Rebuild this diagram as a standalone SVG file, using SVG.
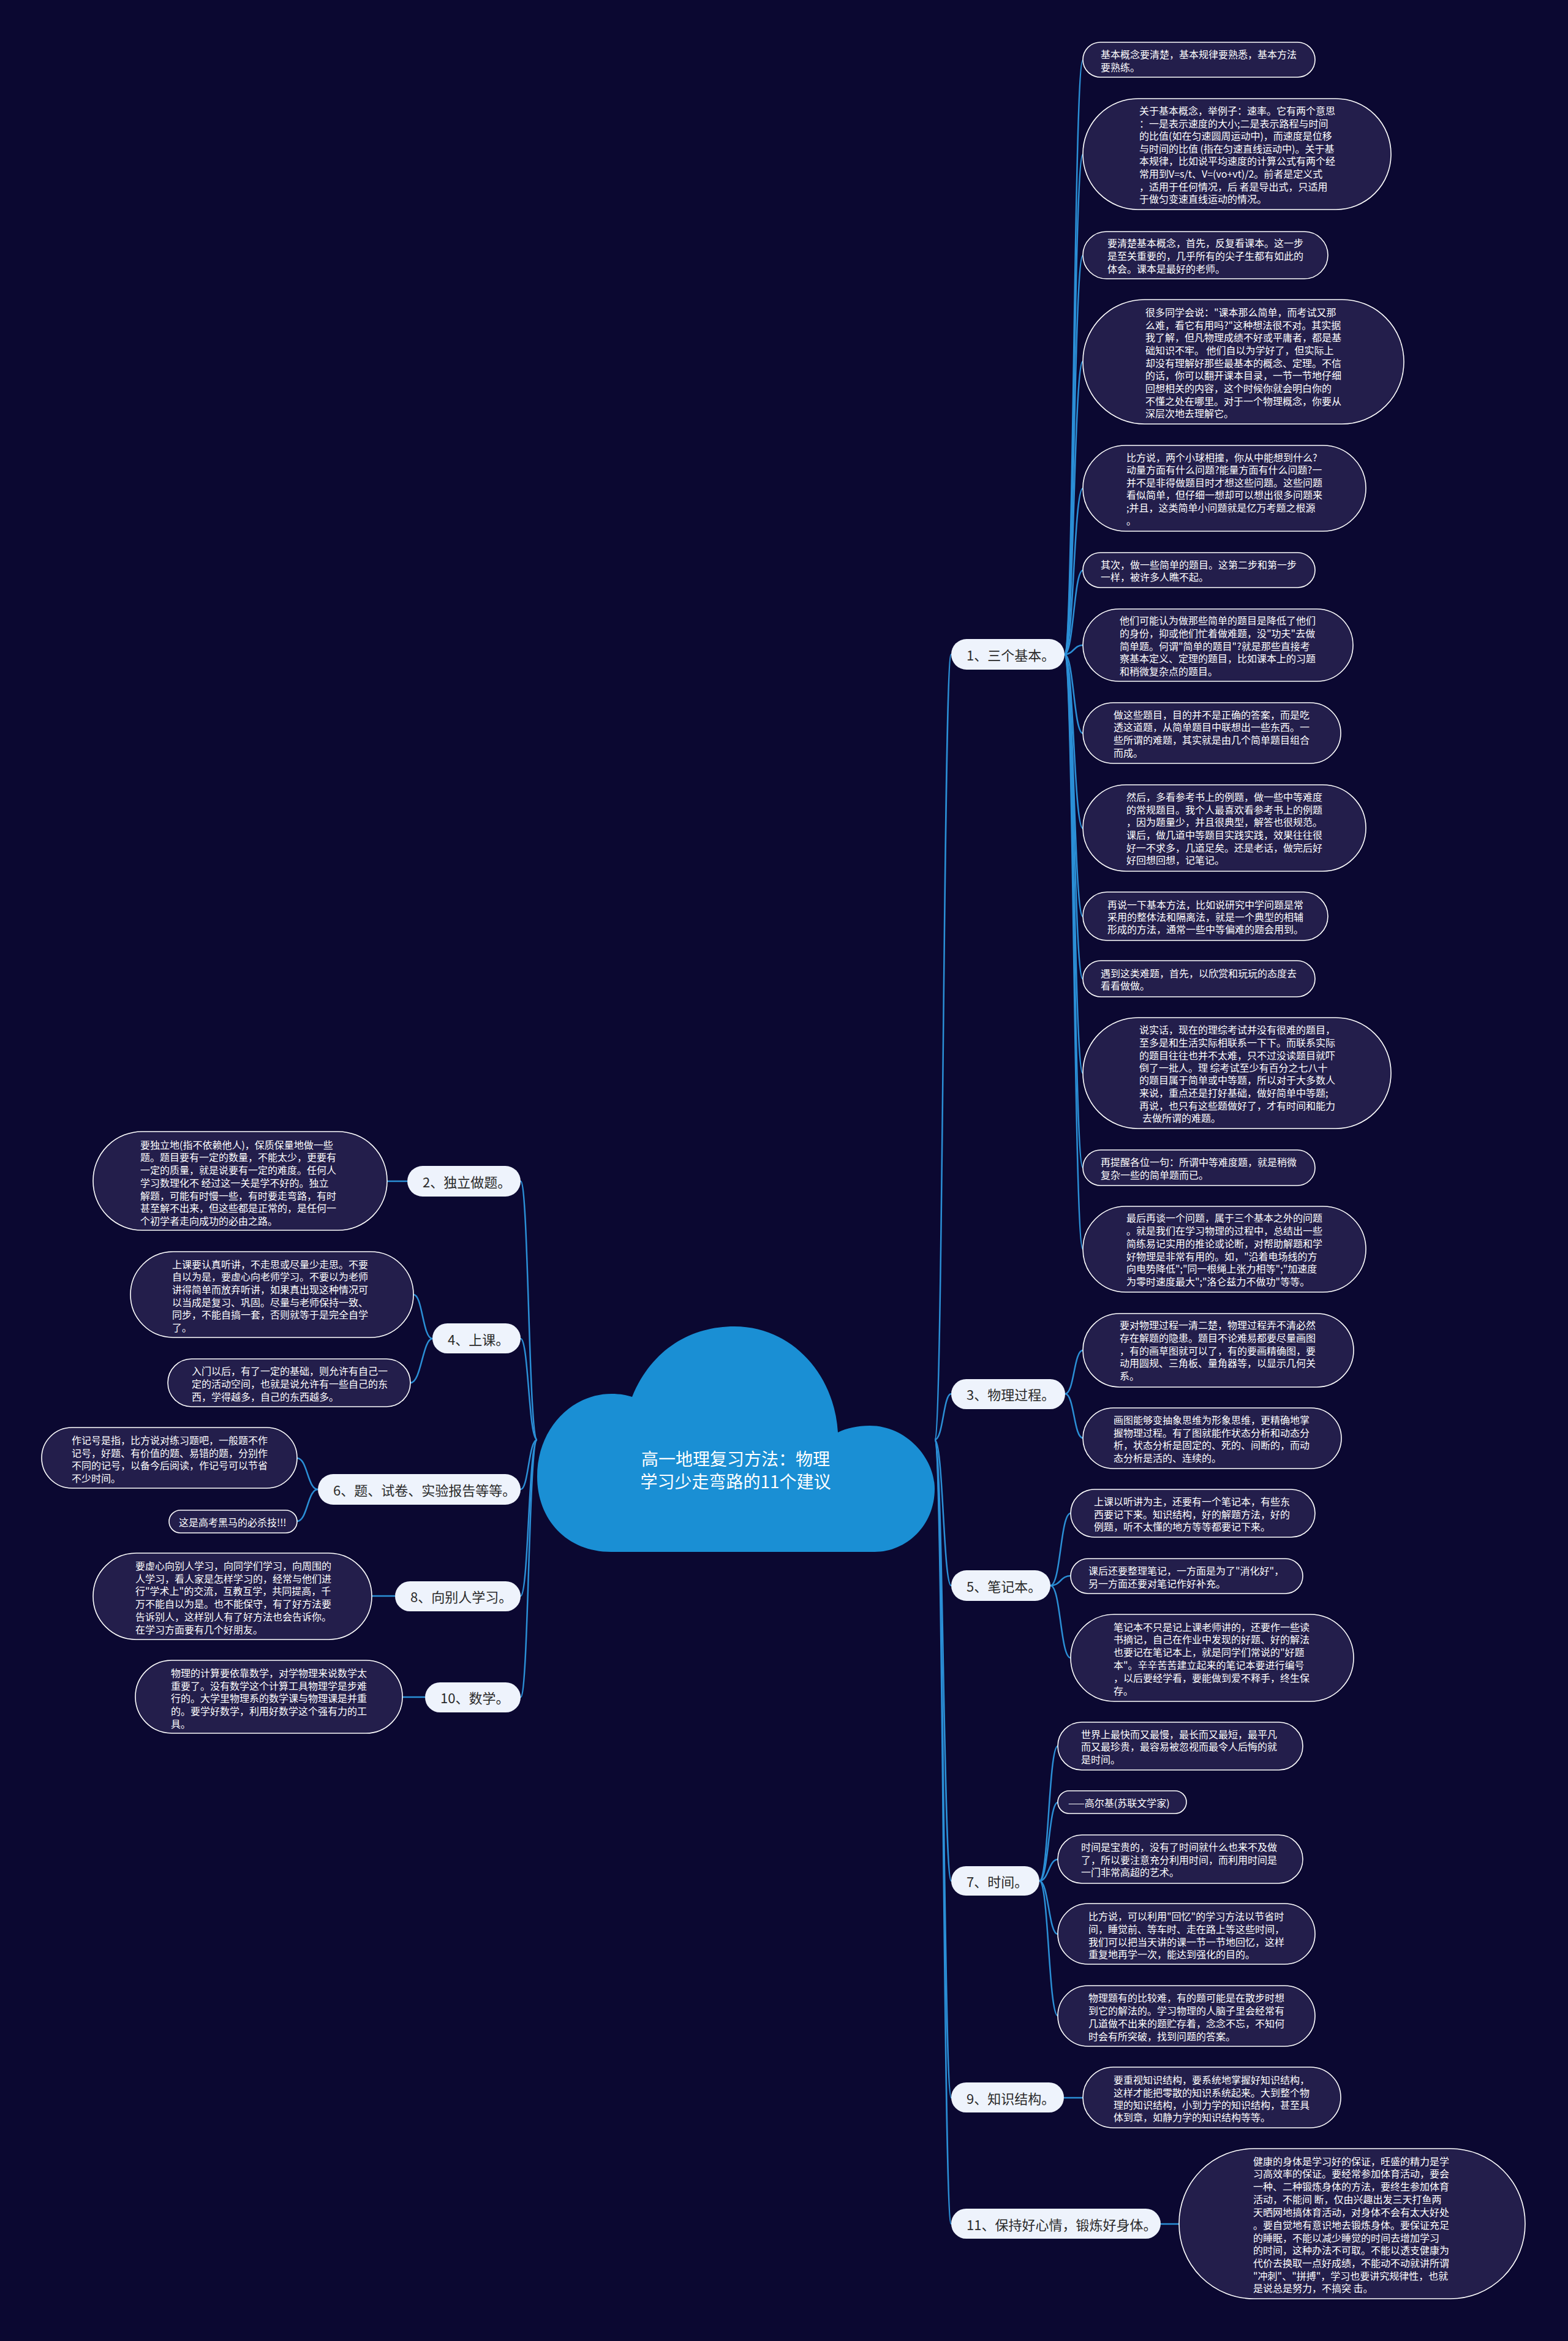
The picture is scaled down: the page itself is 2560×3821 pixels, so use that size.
<svg xmlns="http://www.w3.org/2000/svg" width="2560" height="3821" viewBox="0 0 2560 3821">
<style>
.bub{fill:#231e4b;stroke:#ffffff;stroke-width:1.6}
.bt{font-family:"Noto Sans CJK SC","Noto Sans",sans-serif;font-size:16px;fill:#ffffff;dominant-baseline:central}
.lab{fill:#eef3fc}
.lt{font-family:"Noto Sans CJK SC","Noto Sans",sans-serif;font-size:22px;fill:#2a2a2a;dominant-baseline:central}
.con{fill:none;stroke:#2b8fd6;stroke-width:2.5}
.title{font-family:"Noto Sans CJK SC","Noto Sans",sans-serif;font-size:28px;fill:#ffffff;dominant-baseline:central;text-anchor:middle}
</style>
<rect x="0" y="0" width="2560" height="3821" fill="#0b0831"/>

<g id="connectors">
<!-- main trunk right -->
<path class="con" d="M1526 2350 C1540 2350 1540 1068 1553 1068"/>
<path class="con" d="M1526 2350 C1540 2350 1540 2275 1553 2275"/>
<path class="con" d="M1526 2350 C1540 2350 1540 2588 1553 2588"/>
<path class="con" d="M1526 2350 C1540 2350 1540 3070 1553 3070"/>
<path class="con" d="M1526 2350 C1540 2350 1540 3424 1553 3424"/>
<path class="con" d="M1526 2350 C1540 2350 1540 3630 1553 3630"/>
<!-- main trunk left -->
<path class="con" d="M877 2350 C863 2350 863 1928 850 1928"/>
<path class="con" d="M877 2350 C863 2350 863 2185 850 2185"/>
<path class="con" d="M877 2350 C863 2350 863 2431 850 2431"/>
<path class="con" d="M877 2350 C863 2350 863 2605 850 2605"/>
<path class="con" d="M877 2350 C863 2350 863 2770 850 2770"/>
<!-- section 1 -->
<path class="con" d="M1738 1068 C1753 1068 1753 98 1768 98"/>
<path class="con" d="M1738 1068 C1753 1068 1753 252 1768 252"/>
<path class="con" d="M1738 1068 C1753 1068 1753 417 1768 417"/>
<path class="con" d="M1738 1068 C1753 1068 1753 590 1768 590"/>
<path class="con" d="M1738 1068 C1753 1068 1753 797 1768 797"/>
<path class="con" d="M1738 1068 C1753 1068 1753 931 1768 931"/>
<path class="con" d="M1738 1068 C1753 1068 1753 1053 1768 1053"/>
<path class="con" d="M1738 1068 C1753 1068 1753 1197 1768 1197"/>
<path class="con" d="M1738 1068 C1753 1068 1753 1352 1768 1352"/>
<path class="con" d="M1738 1068 C1753 1068 1753 1496 1768 1496"/>
<path class="con" d="M1738 1068 C1753 1068 1753 1598 1768 1598"/>
<path class="con" d="M1738 1068 C1753 1068 1753 1752 1768 1752"/>
<path class="con" d="M1738 1068 C1753 1068 1753 1906 1768 1906"/>
<path class="con" d="M1738 1068 C1753 1068 1753 2039 1768 2039"/>
<!-- section 3 -->
<path class="con" d="M1739 2275 C1754 2275 1753 2204 1768 2204"/>
<path class="con" d="M1739 2275 C1754 2275 1753 2347 1768 2347"/>
<!-- section 5 -->
<path class="con" d="M1715 2588 C1732 2588 1731 2470 1748 2470"/>
<path class="con" d="M1715 2588 C1732 2588 1731 2572 1748 2572"/>
<path class="con" d="M1715 2588 C1732 2588 1731 2706 1748 2706"/>
<!-- section 7 -->
<path class="con" d="M1697 3070 C1712 3070 1712 2850 1727 2850"/>
<path class="con" d="M1697 3070 C1712 3070 1712 2942 1727 2942"/>
<path class="con" d="M1697 3070 C1712 3070 1712 3035 1727 3035"/>
<path class="con" d="M1697 3070 C1712 3070 1712 3157 1727 3157"/>
<path class="con" d="M1697 3070 C1712 3070 1712 3290 1727 3290"/>
<!-- section 9, 11 -->
<path class="con" d="M1737 3424 L1768 3424"/>
<path class="con" d="M1895 3630 L1925 3630"/>
<!-- left sections -->
<path class="con" d="M665 1928 L632 1928"/>
<path class="con" d="M706 2185 C690 2185 690 2113 675 2113"/>
<path class="con" d="M706 2185 C690 2185 688 2257 670 2257"/>
<path class="con" d="M519 2431 C502 2431 502 2380 485 2380"/>
<path class="con" d="M519 2431 C502 2431 502 2483 485 2483"/>
<path class="con" d="M645 2605 L607 2605"/>
<path class="con" d="M694 2770 L657 2770"/>
</g>

<g id="root">
<path d="M998 2533 C925 2533 877 2480 877 2410 C877 2330 935 2275 998 2275 C1012 2275 1024 2277 1032 2280 C1065 2200 1130 2165 1199 2165 C1290 2165 1362 2240 1368 2338 C1382 2331 1400 2327 1420 2327 C1480 2327 1526 2380 1526 2430 C1526 2490 1480 2533 1428 2533 Z" fill="#1a8fd4"/>
<text class="title"><tspan x="1201" y="2380">高一地理复习方法：物理</tspan><tspan x="1201" y="2417">学习少走弯路的11个建议</tspan></text>
</g>

<g id="n1"><rect class="lab" x="1553" y="1043" width="185" height="50" rx="25"/><text class="lt" x="1578" y="1068">1、三个基本。</text></g>
<g id="n3"><rect class="lab" x="1553" y="2251" width="186" height="49" rx="24.5"/><text class="lt" x="1578" y="2275">3、物理过程。</text></g>
<g id="n5"><rect class="lab" x="1553" y="2563" width="162" height="50" rx="25"/><text class="lt" x="1578" y="2588">5、笔记本。</text></g>
<g id="n7"><rect class="lab" x="1553" y="3046" width="144" height="48" rx="24"/><text class="lt" x="1578" y="3070">7、时间。</text></g>
<g id="n9"><rect class="lab" x="1553" y="3399" width="184" height="49" rx="24.5"/><text class="lt" x="1578" y="3424">9、知识结构。</text></g>
<g id="n11"><rect class="lab" x="1553" y="3605" width="342" height="49" rx="24.5"/><text class="lt" x="1578" y="3630">11、保持好心情，锻炼好身体。</text></g>
<g id="n2"><rect class="lab" x="665" y="1903" width="185" height="50" rx="25"/><text class="lt" x="690" y="1928">2、独立做题。</text></g>
<g id="n4"><rect class="lab" x="706" y="2160" width="144" height="49" rx="24.5"/><text class="lt" x="731" y="2185">4、上课。</text></g>
<g id="n6"><rect class="lab" x="519" y="2406" width="331" height="50" rx="25"/><text class="lt" x="544" y="2431">6、题、试卷、实验报告等等。</text></g>
<g id="n8"><rect class="lab" x="645" y="2581" width="205" height="49" rx="24.5"/><text class="lt" x="670" y="2605">8、向别人学习。</text></g>
<g id="n10"><rect class="lab" x="694" y="2746" width="156" height="49" rx="24.5"/><text class="lt" x="719" y="2770">10、数学。</text></g>

<g id="b1"><rect class="bub" x="1768" y="69" width="379" height="57" rx="28.5"/><text class="bt"><tspan x="1797" y="88">基本概念要清楚，基本规律要熟悉，基本方法</tspan><tspan x="1797" y="109">要熟练。</tspan></text></g>
<g id="b2"><rect class="bub" x="1768" y="161" width="503" height="181" rx="90"/><text class="bt"><tspan x="1860" y="180">关于基本概念，举例子：速率。它有两个意思</tspan><tspan x="1860" y="201">：一是表示速度的大小;二是表示路程与时间</tspan><tspan x="1860" y="221">的比值(如在匀速圆周运动中)，而速度是位移</tspan><tspan x="1860" y="242">与时间的比值 (指在匀速直线运动中)。关于基</tspan><tspan x="1860" y="262">本规律，比如说平均速度的计算公式有两个经</tspan><tspan x="1860" y="283">常用到V=s/t、V=(vo+vt)/2。前者是定义式</tspan><tspan x="1860" y="304">，适用于任何情况，后 者是导出式，只适用</tspan><tspan x="1860" y="324">于做匀变速直线运动的情况。</tspan></text></g>
<g id="b3"><rect class="bub" x="1768" y="378" width="400" height="77" rx="38.5"/><text class="bt"><tspan x="1808" y="396">要清楚基本概念，首先，反复看课本。这一步</tspan><tspan x="1808" y="417">是至关重要的，几乎所有的尖子生都有如此的</tspan><tspan x="1808" y="438">体会。课本是最好的老师。</tspan></text></g>
<g id="b4"><rect class="bub" x="1768" y="489" width="524" height="203" rx="101"/><text class="bt"><tspan x="1870" y="509">很多同学会说："课本那么简单，而考试又那</tspan><tspan x="1870" y="530">么难，看它有用吗?"这种想法很不对。其实据</tspan><tspan x="1870" y="550">我了解，但凡物理成绩不好或平庸者，都是基</tspan><tspan x="1870" y="571">础知识不牢。 他们自以为学好了，但实际上</tspan><tspan x="1870" y="592">却没有理解好那些最基本的概念、定理。不信</tspan><tspan x="1870" y="612">的话，你可以翻开课本目录，一节一节地仔细</tspan><tspan x="1870" y="633">回想相关的内容，这个时候你就会明白你的</tspan><tspan x="1870" y="654">不懂之处在哪里。对于一个物理概念，你要从</tspan><tspan x="1870" y="674">深层次地去理解它。</tspan></text></g>
<g id="b5"><rect class="bub" x="1768" y="727" width="462" height="140" rx="70"/><text class="bt"><tspan x="1839" y="746">比方说，两个小球相撞，你从中能想到什么?</tspan><tspan x="1839" y="766">动量方面有什么问题?能量方面有什么问题?一</tspan><tspan x="1839" y="787">并不是非得做题目时才想这些问题。这些问题</tspan><tspan x="1839" y="807">看似简单，但仔细一想却可以想出很多问题来</tspan><tspan x="1839" y="828">;并且，这类简单小问题就是亿万考题之根源</tspan><tspan x="1839" y="849">。</tspan></text></g>
<g id="b6"><rect class="bub" x="1768" y="902" width="379" height="57" rx="28.5"/><text class="bt"><tspan x="1797" y="921">其次，做一些简单的题目。这第二步和第一步</tspan><tspan x="1797" y="941">一样，被许多人瞧不起。</tspan></text></g>
<g id="b7"><rect class="bub" x="1768" y="994" width="441" height="118" rx="59"/><text class="bt"><tspan x="1828" y="1012">他们可能认为做那些简单的题目是降低了他们</tspan><tspan x="1828" y="1033">的身份，抑或他们忙着做难题，没"功夫"去做</tspan><tspan x="1828" y="1054">简单题。何谓"简单的题目"?就是那些直接考</tspan><tspan x="1828" y="1074">察基本定义、定理的题目，比如课本上的习题</tspan><tspan x="1828" y="1095">和稍微复杂点的题目。</tspan></text></g>
<g id="b8"><rect class="bub" x="1768" y="1147" width="421" height="99" rx="49.5"/><text class="bt"><tspan x="1818" y="1166">做这些题目，目的并不是正确的答案，而是吃</tspan><tspan x="1818" y="1186">透这道题，从简单题目中联想出一些东西。一</tspan><tspan x="1818" y="1207">些所谓的难题，其实就是由几个简单题目组合</tspan><tspan x="1818" y="1228">而成。</tspan></text></g>
<g id="b9"><rect class="bub" x="1768" y="1281" width="462" height="141" rx="70.5"/><text class="bt"><tspan x="1839" y="1300">然后，多看参考书上的例题，做一些中等难度</tspan><tspan x="1839" y="1321">的常规题目。我个人最喜欢看参考书上的例题</tspan><tspan x="1839" y="1341">，因为题量少，并且很典型，解答也很规范。</tspan><tspan x="1839" y="1362">课后，做几道中等题目实践实践，效果往往很</tspan><tspan x="1839" y="1383">好一不求多，几道足矣。还是老话，做完后好</tspan><tspan x="1839" y="1403">好回想回想，记笔记。</tspan></text></g>
<g id="b10"><rect class="bub" x="1768" y="1456" width="400" height="79" rx="39.5"/><text class="bt"><tspan x="1808" y="1476">再说一下基本方法，比如说研究中学问题是常</tspan><tspan x="1808" y="1496">采用的整体法和隔离法，就是一个典型的相辅</tspan><tspan x="1808" y="1516">形成的方法，通常一些中等偏难的题会用到。</tspan></text></g>
<g id="b11"><rect class="bub" x="1768" y="1568" width="379" height="59" rx="29.5"/><text class="bt"><tspan x="1797" y="1588">遇到这类难题，首先，以欣赏和玩玩的态度去</tspan><tspan x="1797" y="1608">看看做做。</tspan></text></g>
<g id="b12"><rect class="bub" x="1768" y="1661" width="503" height="181" rx="90"/><text class="bt"><tspan x="1860" y="1680">说实话，现在的理综考试并没有很难的题目，</tspan><tspan x="1860" y="1701">至多是和生活实际相联系一下下。而联系实际</tspan><tspan x="1860" y="1722">的题目往往也并不太难，只不过没读题目就吓</tspan><tspan x="1860" y="1742">倒了一批人。理 综考试至少有百分之七八十</tspan><tspan x="1860" y="1762">的题目属于简单或中等题，所以对于大多数人</tspan><tspan x="1860" y="1783">来说，重点还是打好基础，做好简单中等题;</tspan><tspan x="1860" y="1804">再说，也只有这些题做好了，才有时间和能力</tspan><tspan x="1865" y="1824">去做所谓的难题。</tspan></text></g>
<g id="b13"><rect class="bub" x="1768" y="1877" width="379" height="58" rx="29"/><text class="bt"><tspan x="1797" y="1896">再提醒各位一句：所谓中等难度题，就是稍微</tspan><tspan x="1797" y="1917">复杂一些的简单题而已。</tspan></text></g>
<g id="b14"><rect class="bub" x="1768" y="1969" width="462" height="140" rx="70"/><text class="bt"><tspan x="1839" y="1987">最后再谈一个问题，属于三个基本之外的问题</tspan><tspan x="1839" y="2008">。就是我们在学习物理的过程中，总结出一些</tspan><tspan x="1839" y="2029">简练易记实用的推论或论断，对帮助解题和学</tspan><tspan x="1839" y="2050">好物理是非常有用的。如，"沿着电场线的方</tspan><tspan x="1839" y="2070">向电势降低";"同一根绳上张力相等";"加速度</tspan><tspan x="1839" y="2091">为零时速度最大";"洛仑兹力不做功"等等。</tspan></text></g>

<g id="b15"><rect class="bub" x="1768" y="2144" width="442" height="120" rx="60"/><text class="bt"><tspan x="1828" y="2162">要对物理过程一清二楚，物理过程弄不清必然</tspan><tspan x="1828" y="2183">存在解题的隐患。题目不论难易都要尽量画图</tspan><tspan x="1828" y="2204">，有的画草图就可以了，有的要画精确图，要</tspan><tspan x="1828" y="2224">动用圆规、三角板、量角器等，以显示几何关</tspan><tspan x="1828" y="2245">系。</tspan></text></g>
<g id="b16"><rect class="bub" x="1768" y="2298" width="422" height="99" rx="49.5"/><text class="bt"><tspan x="1818" y="2317">画图能够变抽象思维为形象思维，更精确地掌</tspan><tspan x="1818" y="2338">握物理过程。有了图就能作状态分析和动态分</tspan><tspan x="1818" y="2358">析，状态分析是固定的、死的、间断的，而动</tspan><tspan x="1818" y="2379">态分析是活的、连续的。</tspan></text></g>

<g id="b17"><rect class="bub" x="1748" y="2431" width="399" height="78" rx="39"/><text class="bt"><tspan x="1786" y="2450">上课以听讲为主，还要有一个笔记本，有些东</tspan><tspan x="1786" y="2471">西要记下来。知识结构，好的解题方法，好的</tspan><tspan x="1786" y="2491">例题，听不太懂的地方等等都要记下来。</tspan></text></g>
<g id="b18"><rect class="bub" x="1748" y="2544" width="379" height="57" rx="28.5"/><text class="bt"><tspan x="1777" y="2563">课后还要整理笔记，一方面是为了"消化好"，</tspan><tspan x="1777" y="2584">另一方面还要对笔记作好补充。</tspan></text></g>
<g id="b19"><rect class="bub" x="1748" y="2635" width="462" height="142" rx="71"/><text class="bt"><tspan x="1818" y="2655">笔记本不只是记上课老师讲的，还要作一些读</tspan><tspan x="1818" y="2675">书摘记，自己在作业中发现的好题、好的解法</tspan><tspan x="1818" y="2696">也要记在笔记本上，就是同学们常说的"好题</tspan><tspan x="1818" y="2717">本"。辛辛苦苦建立起来的笔记本要进行编号</tspan><tspan x="1818" y="2738">，以后要经学看，要能做到爱不释手，终生保</tspan><tspan x="1818" y="2759">存。</tspan></text></g>

<g id="b20"><rect class="bub" x="1727" y="2811" width="400" height="78" rx="39"/><text class="bt"><tspan x="1765" y="2830">世界上最快而又最慢，最长而又最短，最平凡</tspan><tspan x="1765" y="2850">而又最珍贵，最容易被忽视而最令人后悔的就</tspan><tspan x="1765" y="2871">是时间。</tspan></text></g>
<g id="b21"><rect class="bub" x="1727" y="2923" width="210" height="37" rx="18.5"/><text class="bt"><tspan x="1744" y="2942">——高尔基(苏联文学家)</tspan></text></g>
<g id="b22"><rect class="bub" x="1727" y="2995" width="400" height="79" rx="39.5"/><text class="bt"><tspan x="1765" y="3014">时间是宝贵的，没有了时间就什么也来不及做</tspan><tspan x="1765" y="3035">了，所以要注意充分利用时间，而利用时间是</tspan><tspan x="1765" y="3055">一门非常高超的艺术。</tspan></text></g>
<g id="b23"><rect class="bub" x="1727" y="3107" width="420" height="99" rx="49.5"/><text class="bt"><tspan x="1777" y="3127">比方说，可以利用"回忆"的学习方法以节省时</tspan><tspan x="1777" y="3148">间，睡觉前、等车时、走在路上等这些时间，</tspan><tspan x="1777" y="3169">我们可以把当天讲的课一节一节地回忆，这样</tspan><tspan x="1777" y="3189">重复地再学一次，能达到强化的目的。</tspan></text></g>
<g id="b24"><rect class="bub" x="1727" y="3241" width="420" height="99" rx="49.5"/><text class="bt"><tspan x="1777" y="3260">物理题有的比较难，有的题可能是在散步时想</tspan><tspan x="1777" y="3281">到它的解法的。学习物理的人脑子里会经常有</tspan><tspan x="1777" y="3302">几道做不出来的题贮存着，念念不忘，不知何</tspan><tspan x="1777" y="3323">时会有所突破，找到问题的答案。</tspan></text></g>

<g id="b25"><rect class="bub" x="1768" y="3374" width="421" height="99" rx="49.5"/><text class="bt"><tspan x="1818" y="3394">要重视知识结构，要系统地掌握好知识结构，</tspan><tspan x="1818" y="3415">这样才能把零散的知识系统起来。大到整个物</tspan><tspan x="1818" y="3435">理的知识结构，小到力学的知识结构，甚至具</tspan><tspan x="1818" y="3455">体到章，如静力学的知识结构等等。</tspan></text></g>
<g id="b26"><rect class="bub" x="1925" y="3507" width="565" height="245" rx="122"/><text class="bt"><tspan x="2046" y="3527">健康的身体是学习好的保证，旺盛的精力是学</tspan><tspan x="2046" y="3547">习高效率的保证。要经常参加体育活动，要会</tspan><tspan x="2046" y="3568">一种、二种锻炼身体的方法，要终生参加体育</tspan><tspan x="2046" y="3589">活动，不能间 断，仅由兴趣出发三天打鱼两</tspan><tspan x="2046" y="3610">天晒网地搞体育活动，对身体不会有太大好处</tspan><tspan x="2046" y="3631">。要自觉地有意识地去锻炼身体。要保证充足</tspan><tspan x="2046" y="3652">的睡眠，不能以减少睡觉的时间去增加学习</tspan><tspan x="2046" y="3672">的时间，这种办法不可取。不能以透支健康为</tspan><tspan x="2046" y="3693">代价去换取一点好成绩，不能动不动就讲所谓</tspan><tspan x="2046" y="3714">"冲刺"、"拼搏"，学习也要讲究规律性，也就</tspan><tspan x="2046" y="3734">是说总是努力，不搞突 击。</tspan></text></g>

<g id="l2a"><rect class="bub" x="152" y="1847" width="480" height="161" rx="80"/><text class="bt"><tspan x="229" y="1868">要独立地(指不依赖他人)，保质保量地做一些</tspan><tspan x="229" y="1888">题。题目要有一定的数量，不能太少，更要有</tspan><tspan x="229" y="1909">一定的质量，就是说要有一定的难度。任何人</tspan><tspan x="229" y="1930">学习数理化不 经过这一关是学不好的。独立</tspan><tspan x="229" y="1951">解题，可能有时慢一些，有时要走弯路，有时</tspan><tspan x="229" y="1971">甚至解不出来，但这些都是正常的，是任何一</tspan><tspan x="229" y="1992">个初学者走向成功的必由之路。</tspan></text></g>
<g id="l4a"><rect class="bub" x="213" y="2043" width="462" height="140" rx="70"/><text class="bt"><tspan x="281" y="2063">上课要认真听讲，不走思或尽量少走思。不要</tspan><tspan x="281" y="2083">自以为是，要虚心向老师学习。不要以为老师</tspan><tspan x="281" y="2104">讲得简单而放弃听讲，如果真出现这种情况可</tspan><tspan x="281" y="2125">以当成是复习、巩固。尽量与老师保持一致、</tspan><tspan x="281" y="2145">同步，不能自搞一套，否则就等于是完全自学</tspan><tspan x="281" y="2166">了。</tspan></text></g>
<g id="l4b"><rect class="bub" x="274" y="2218" width="396" height="78" rx="39"/><text class="bt"><tspan x="313" y="2237">入门以后，有了一定的基础，则允许有自己一</tspan><tspan x="313" y="2258">定的活动空间，也就是说允许有一些自己的东</tspan><tspan x="313" y="2279">西，学得越多，自己的东西越多。</tspan></text></g>
<g id="l6a"><rect class="bub" x="68" y="2330" width="417" height="99" rx="49.5"/><text class="bt"><tspan x="117" y="2350">作记号是指，比方说对练习题吧，一般题不作</tspan><tspan x="117" y="2371">记号，好题、有价值的题、易错的题，分别作</tspan><tspan x="117" y="2391">不同的记号，以备今后阅读，作记号可以节省</tspan><tspan x="117" y="2412">不少时间。</tspan></text></g>
<g id="l6b"><rect class="bub" x="276" y="2465" width="209" height="37" rx="18.5"/><text class="bt"><tspan x="292" y="2484">这是高考黑马的必杀技!!!</tspan></text></g>
<g id="l8a"><rect class="bub" x="152" y="2535" width="455" height="141" rx="70.5"/><text class="bt"><tspan x="221" y="2555">要虚心向别人学习，向同学们学习，向周围的</tspan><tspan x="221" y="2576">人学习，看人家是怎样学习的，经常与他们进</tspan><tspan x="221" y="2596">行"学术上"的交流，互教互学，共同提高，千</tspan><tspan x="221" y="2617">万不能自以为是。也不能保守，有了好方法要</tspan><tspan x="221" y="2638">告诉别人，这样别人有了好方法也会告诉你。</tspan><tspan x="221" y="2659">在学习方面要有几个好朋友。</tspan></text></g>
<g id="l10a"><rect class="bub" x="221" y="2710" width="436" height="119" rx="59.5"/><text class="bt"><tspan x="279" y="2730">物理的计算要依靠数学，对学物理来说数学太</tspan><tspan x="279" y="2751">重要了。没有数学这个计算工具物理学是步难</tspan><tspan x="279" y="2771">行的。大学里物理系的数学课与物理课是并重</tspan><tspan x="279" y="2792">的。要学好数学，利用好数学这个强有力的工</tspan><tspan x="279" y="2813">具。</tspan></text></g>
</svg>
